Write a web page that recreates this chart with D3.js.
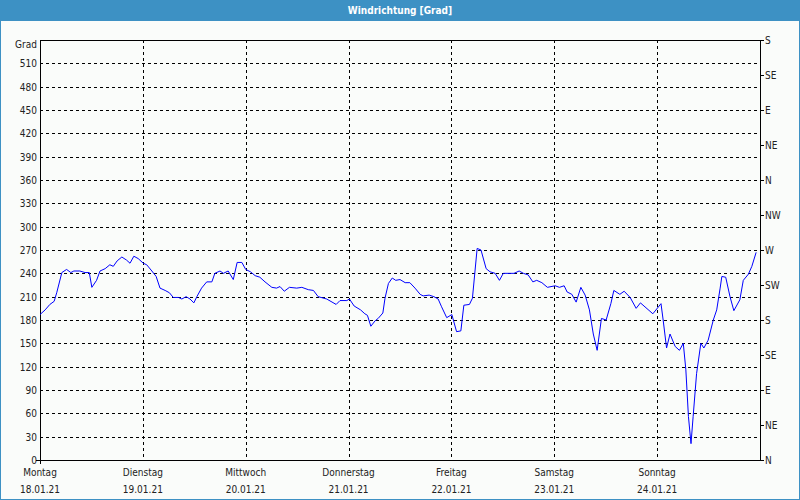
<!DOCTYPE html>
<html><head><meta charset="utf-8">
<script src="https://cdn.jsdelivr.net/npm/d3@7"></script>
<style>
html,body{margin:0;padding:0;background:#fafcfa;}
svg{display:block;}
text{font-family:"DejaVu Sans Condensed","DejaVu Sans",sans-serif;}
</style></head>
<body>
<svg id="c" width="800" height="500"></svg>
<script>
const title = "Windrichtung [Grad]";
const yLabel = "Grad";
const dayNames = ["Montag","Dienstag","Mittwoch","Donnerstag","Freitag","Samstag","Sonntag"];
const dayDates = ["18.01.21","19.01.21","20.01.21","21.01.21","22.01.21","23.01.21","24.01.21"];
const yTicks = [0,30,60,90,120,150,180,210,240,270,300,330,360,390,420,450,480,510];
const compassValues = [0,45,90,135,180,225,270,315,360,405,450,495,540];
const compassLabels = ["N","NE","E","SE","S","SW","W","NW","N","NE","E","SE","S"];
// hours since 18.01.21 00:00
const hours = [0,1.2,2.3,3.3,3.9,5.1,6.2,7.2,7.9,9.3,10.5,11.5,12.1,13.2,14.0,15.2,16.3,17.1,18.0,19.1,20.2,21.0,21.9,22.9,24.1,24.9,26.1,27.1,28.0,29.2,30.2,31.1,32.3,33.1,34.1,35.0,35.9,36.6,37.7,38.9,40.1,40.8,42.0,42.8,43.9,45.1,46.0,47.1,48.0,49.1,50.2,51.3,52.5,54.1,55.2,56.0,57.0,58.2,59.9,61.1,62.6,63.8,64.9,66.9,69.1,70.0,71.6,72.2,73.3,74.8,75.8,76.4,77.2,78.2,78.9,80.0,80.5,81.3,82.2,83.0,84.0,85.2,86.3,87.5,88.7,89.4,90.8,91.9,92.9,93.7,94.9,96.1,97.2,98.2,98.9,100.2,100.9,102.0,102.9,104.1,105.0,106.2,107.2,108.1,110.6,111.8,112.8,113.9,115.0,115.9,117.1,118.4,120.2,121.2,122.3,123.0,124.1,125.1,126.2,127.2,128.2,129.1,130.0,131.0,132.1,133.2,133.9,135.3,136.3,137.7,139.1,140.1,143.0,144.9,145.4,146.2,147.0,148.2,149.2,150.1,150.7,151.3,151.9,152.4,153.2,154.2,154.9,155.9,157.1,157.9,158.7,159.1,160.0,161.0,161.9,163.3,164.1,165.3,166.1,167.1];
const direction = [187,193,200,204,215,241,245,241,243,243,241,241,222,231,243,246,251,249,256,261,257,253,262,259,253,251,243,236,221,218,215,209,209,207,210,207,202,210,221,229,229,240,243,240,243,232,254,254,245,242,237,235,229,222,221,223,217,222,221,222,219,218,210,207,200,205,205,207,198,193,188,186,172,179,182,189,208,227,234,231,232,228,228,221,213,211,212,210,207,197,183,187,165,166,199,200,208,272,270,246,242,240,231,240,240,243,240,238,229,231,228,222,224,222,224,216,213,203,222,212,193,162,141,182,180,201,218,213,217,209,195,202,188,201,180,144,162,146,141,150,116,56,21,56,111,150,144,154,180,193,221,236,235,210,192,206,231,239,249,267];

const svg = d3.select("#c");
const W = 800, H = 500;
const L = 40, R = 760, T = 40, B = 460;

svg.append("rect").attr("x",0).attr("y",0).attr("width",W).attr("height",H).attr("fill","#3d91c4");
svg.append("rect").attr("x",1).attr("y",21).attr("width",W-2).attr("height",H-22).attr("fill","#fafcfa");
svg.append("text").attr("x",W/2).attr("y",14).attr("text-anchor","middle")
  .attr("fill","#fff").attr("font-size",10).attr("font-weight","bold").text(title);

const x = d3.scaleLinear().domain([0,168]).range([L,R]);
const y = d3.scaleLinear().domain([0,540]).range([B,T]);

const g = svg.append("g");
g.selectAll(".hg").data(yTicks.filter(v=>v>0)).join("line")
  .attr("x1",L).attr("x2",R).attr("y1",d=>Math.round(y(d))+0.5).attr("y2",d=>Math.round(y(d))+0.5)
  .attr("stroke","#000").attr("stroke-dasharray","3,3").attr("shape-rendering","crispEdges");
g.selectAll(".vg").data(d3.range(1,7)).join("line")
  .attr("x1",d=>Math.round(x(d*24))+0.5).attr("x2",d=>Math.round(x(d*24))+0.5).attr("y1",T).attr("y2",B)
  .attr("stroke","#000").attr("stroke-dasharray","3,3").attr("shape-rendering","crispEdges");

g.append("rect").attr("x",L+0.5).attr("y",T+0.5).attr("width",R-L).attr("height",B-T)
  .attr("fill","none").attr("stroke","#000").attr("shape-rendering","crispEdges");

g.selectAll(".yl").data(yTicks).join("text")
  .attr("x",37).attr("y",d=>y(d)+4).attr("text-anchor","end").attr("font-size",10).attr("fill","#222")
  .text(d=>d);
g.append("text").attr("x",37).attr("y",48).attr("text-anchor","end").attr("font-size",10).attr("fill","#222").text(yLabel);
g.append("line").attr("x1",36).attr("x2",L).attr("y1",B+0.5).attr("y2",B+0.5).attr("stroke","#000").attr("shape-rendering","crispEdges");
g.append("line").attr("x1",L+0.5).attr("x2",L+0.5).attr("y1",B).attr("y2",B+4).attr("stroke","#000").attr("shape-rendering","crispEdges");

const rg = g.selectAll(".rt").data(compassValues).join("g");
rg.append("line").attr("x1",R).attr("x2",R+4).attr("y1",d=>Math.round(y(d))+0.5).attr("y2",d=>Math.round(y(d))+0.5)
  .attr("stroke","#000").attr("shape-rendering","crispEdges");
rg.append("text").attr("x",R+5).attr("y",d=>y(d)+4).attr("font-size",10).attr("fill","#222")
  .text((d,i)=>compassLabels[i]);

const bg = g.selectAll(".bt").data(d3.range(7)).join("g");
bg.append("text").attr("x",d=>x(d*24)).attr("y",476).attr("text-anchor","middle").attr("font-size",10).attr("fill","#222").text(d=>dayNames[d]);
bg.append("text").attr("x",d=>x(d*24)).attr("y",493).attr("text-anchor","middle").attr("font-size",10).attr("fill","#222").text(d=>dayDates[d]);

const line = d3.line().x((d,i)=>x(hours[i])).y(d=>y(d));
g.append("path").datum(direction).attr("d",line).attr("fill","none").attr("stroke","#0000ff").attr("stroke-width",1);
</script>
</body></html>
